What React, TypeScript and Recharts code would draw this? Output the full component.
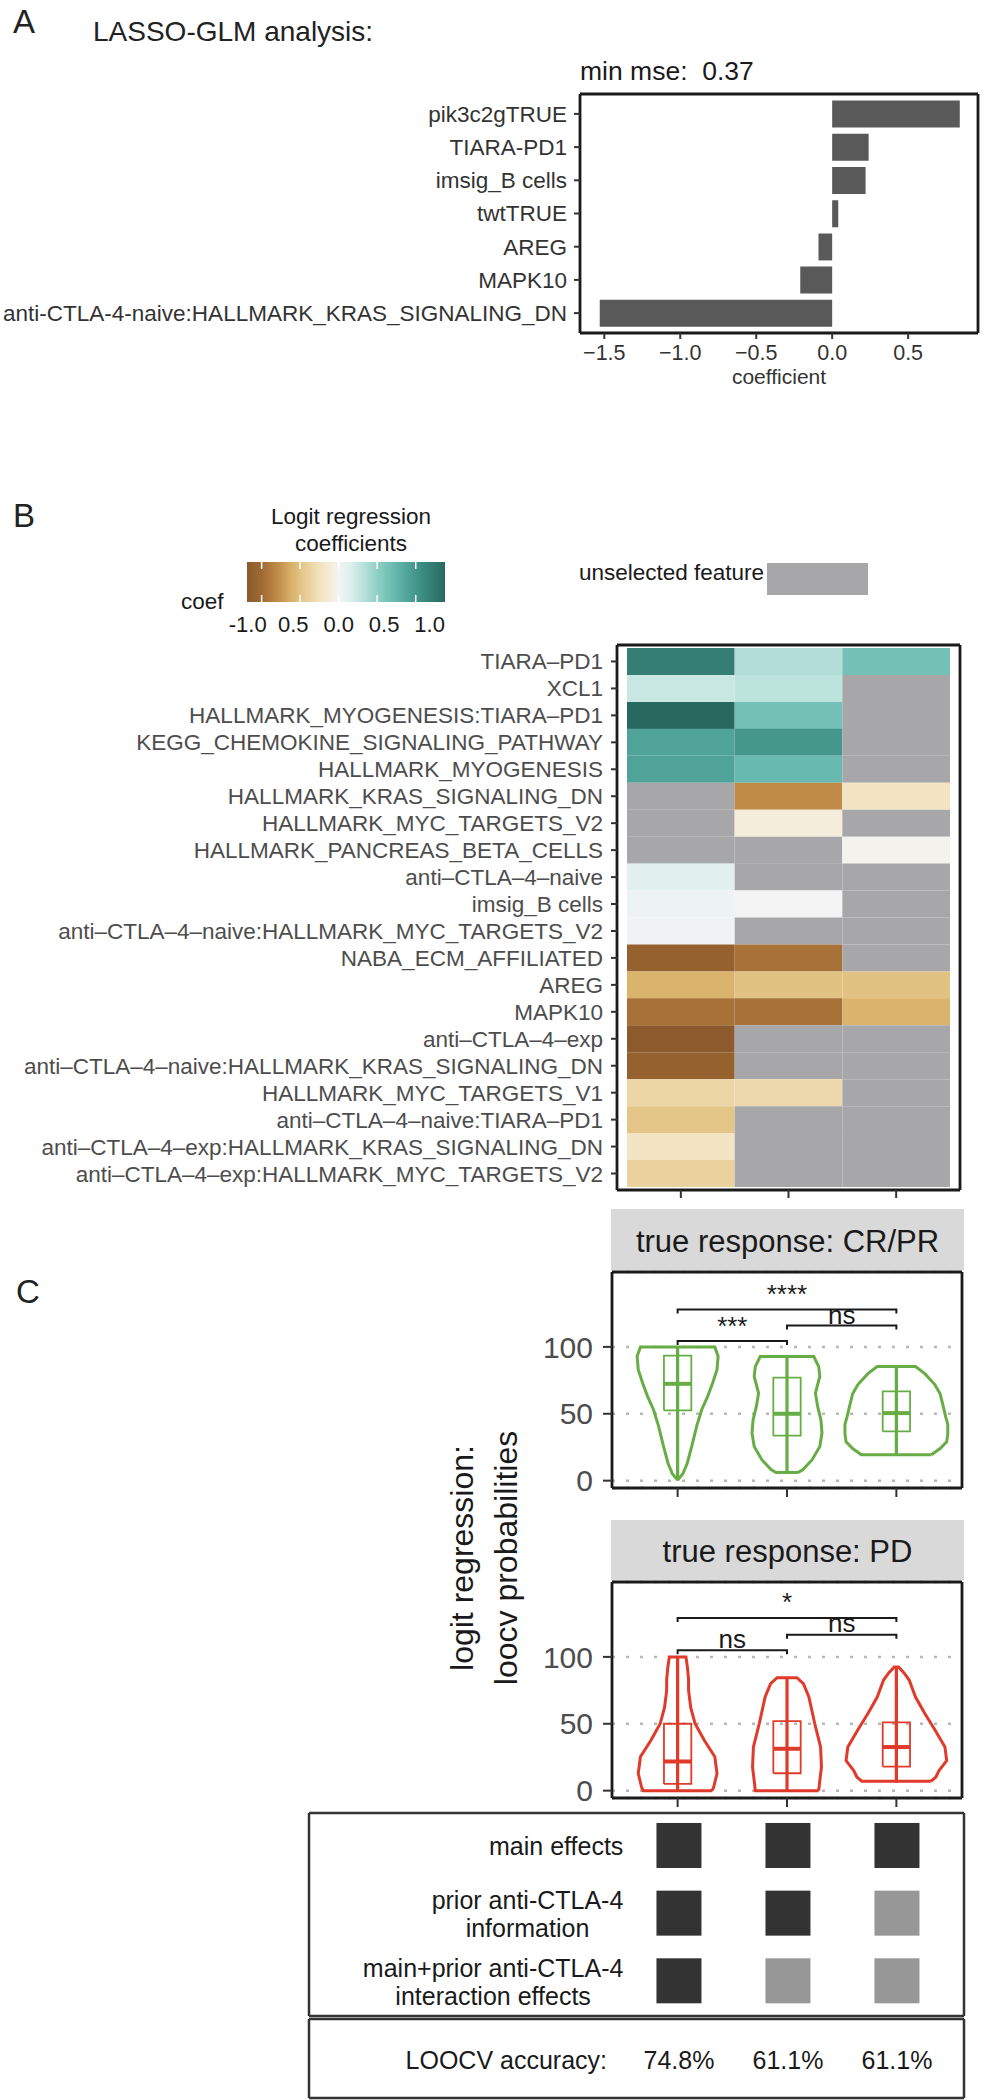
import React from 'react';
import { BarChart, Bar, Cell, XAxis, YAxis, CartesianGrid, ScatterChart, Scatter } from 'recharts';

const FONT = '"Liberation Sans", Arial, Helvetica, sans-serif';
const INK = '#1a1a1a';
const AXIS_TEXT = '#4d4d4d';
const UNSELECTED = '#a7a7a9';

// ---- A: LASSO-GLM coefficients
const lassoFeatures = [
  'pik3c2gTRUE',
  'TIARA-PD1',
  'imsig_B cells',
  'twtTRUE',
  'AREG',
  'MAPK10',
  'anti-CTLA-4-naive:HALLMARK_KRAS_SIGNALING_DN',
];
const lassoCoefs = [0.84, 0.24, 0.22, 0.04, -0.09, -0.21, -1.53];
const lassoTicks = [-1.5, -1, -0.5, 0, 0.5];
const minMse = '0.37';

// ---- B: logit regression coefficients, one list per model (null = unselected feature)
const heatFeatures = [
  'TIARA–PD1',
  'XCL1',
  'HALLMARK_MYOGENESIS:TIARA–PD1',
  'KEGG_CHEMOKINE_SIGNALING_PATHWAY',
  'HALLMARK_MYOGENESIS',
  'HALLMARK_KRAS_SIGNALING_DN',
  'HALLMARK_MYC_TARGETS_V2',
  'HALLMARK_PANCREAS_BETA_CELLS',
  'anti–CTLA–4–naive',
  'imsig_B cells',
  'anti–CTLA–4–naive:HALLMARK_MYC_TARGETS_V2',
  'NABA_ECM_AFFILIATED',
  'AREG',
  'MAPK10',
  'anti–CTLA–4–exp',
  'anti–CTLA–4–naive:HALLMARK_KRAS_SIGNALING_DN',
  'HALLMARK_MYC_TARGETS_V1',
  'anti–CTLA–4–naive:TIARA–PD1',
  'anti–CTLA–4–exp:HALLMARK_KRAS_SIGNALING_DN',
  'anti–CTLA–4–exp:HALLMARK_MYC_TARGETS_V2',
];
const model1Coefs = [1.2, 0.25, 1.38, 0.9, 0.9, null, null, null, 0.12, 0.05, 0.03, -1.1, -0.6, -0.95, -1.19, -1.1, -0.35, -0.48, -0.22, -0.38];
const model2Coefs = [0.35, 0.3, 0.65, 1.0, 0.72, -0.8, -0.1, null, null, 0.0, null, -0.95, -0.5, -0.95, null, null, -0.33, null, null, null];
const model3Coefs = [0.65, null, null, null, null, -0.22, null, -0.03, null, null, null, null, -0.5, -0.6, null, null, null, null, null, null];
const coefLegendTicks = [-1, -0.5, 0, 0.5, 1];
const coefLegendLabels = ['-1.0', '0.5', '0.0', '0.5', '1.0'];
const coefRange = [-1.19, 1.38];

// ---- C: loocv probabilities, violin outlines as [probability, half width]
const crViolins: Array<Array<[number, number]>> = [
  [[0.5, 0], [5, 0.047], [13, 0.088], [26, 0.13], [41, 0.175], [53, 0.22], [63, 0.275], [73, 0.32], [83, 0.36], [93, 0.37], [100, 0.34]],
  [[6, 0.1], [8.3, 0.146], [15.7, 0.23], [25.6, 0.3], [35.6, 0.32], [45.5, 0.31], [55.5, 0.28], [65.4, 0.26], [77.9, 0.3], [85.3, 0.29], [92.8, 0.245]],
  [[19.4, 0.32], [24, 0.4], [29, 0.46], [35, 0.47], [42, 0.47], [48, 0.45], [55, 0.43], [65, 0.4], [72, 0.35], [80, 0.26], [85.3, 0.175]],
];
const pdViolins: Array<Array<[number, number]>> = [
  [[0, 0.315], [2.7, 0.33], [12.8, 0.36], [25.3, 0.34], [37.5, 0.245], [50, 0.16], [62, 0.12], [75, 0.1], [83, 0.1], [92, 0.09], [100, 0.076]],
  [[0, 0.29], [7.5, 0.3], [17.5, 0.315], [32.6, 0.307], [50, 0.254], [70, 0.2], [80, 0.15], [84.5, 0.09]],
  [[7, 0.315], [10, 0.36], [15, 0.39], [22.5, 0.46], [32.6, 0.444], [45, 0.356], [57.6, 0.26], [70, 0.175], [82.7, 0.117], [88, 0.07], [92.5, 0.02]],
];
const crBoxes = [
  { lo: 0, q1: 52.5, med: 72.4, q3: 93.5, hi: 100 },
  { lo: 6, q1: 33.6, med: 50, q3: 77, hi: 93 },
  { lo: 19.4, q1: 36.8, med: 50.5, q3: 66.7, hi: 85.3 },
];
const pdBoxes = [
  { lo: 0, q1: 5, med: 21.8, q3: 50, hi: 100 },
  { lo: 0, q1: 13, med: 31.3, q3: 52, hi: 84 },
  { lo: 6, q1: 18, med: 32.6, q3: 51, hi: 92 },
];
const crBrackets = [
  { from: 0, to: 1, y: 104.5, label: '***', labelY: 109 },
  { from: 1, to: 2, y: 116, label: 'ns', labelY: 117 },
  { from: 0, to: 2, y: 128, label: '****', labelY: 133 },
];
const pdBrackets = [
  { from: 0, to: 1, y: 105, label: 'ns', labelY: 106.5 },
  { from: 1, to: 2, y: 116.5, label: 'ns', labelY: 118.5 },
  { from: 0, to: 2, y: 129, label: '*', labelY: 134 },
];
const probTicks = [0, 50, 100];

// ---- model composition table
const tableRows = ['main effects', 'prior anti-CTLA-4\ninformation', 'main+prior anti-CTLA-4\ninteraction effects'];
const modelIncludes = [
  [true, true, true],
  [true, true, false],
  [true, false, false],
];
const loocvAccuracy = ['74.8%', '61.1%', '61.1%'];

// colour scale of the heatmap
const coefStops: Array<[number, string]> = [
  [-1.19, '#8c5a2c'], [-1.0, '#9f6933'], [-0.8, '#c08a47'], [-0.6, '#dab36c'], [-0.45, '#e6ca8f'],
  [-0.25, '#f2e2bd'], [-0.1, '#f5eddb'], [0, '#f4f4f4'], [0.15, '#ddf0ed'], [0.3, '#bde3dd'],
  [0.5, '#8fd0c6'], [0.7, '#6bbbb1'], [0.9, '#4fa398'], [1.1, '#3a8a80'], [1.38, '#28695f'],
];

function hexToRgb(h: string) {
  return [1, 3, 5].map((i) => parseInt(h.slice(i, i + 2), 16));
}

function coefColor(v: number | null) {
  if (v === null) return UNSELECTED;
  if (v <= coefStops[0][0]) return coefStops[0][1];
  for (let i = 1; i < coefStops.length; i++) {
    const [v1, c1] = coefStops[i];
    if (v <= v1) {
      const [v0, c0] = coefStops[i - 1];
      const t = (v - v0) / (v1 - v0);
      const a = hexToRgb(c0);
      const b = hexToRgb(c1);
      const m = a.map((x, k) => Math.round(x + (b[k] - x) * t));
      return `rgb(${m[0]},${m[1]},${m[2]})`;
    }
  }
  return coefStops[coefStops.length - 1][1];
}

let measureCtx: CanvasRenderingContext2D | null = null;
function measure(text: string, size: number) {
  if (!measureCtx) measureCtx = document.createElement('canvas').getContext('2d');
  if (!measureCtx) return text.length * size * 0.5;
  measureCtx.font = `${size}px ${FONT}`;
  return measureCtx.measureText(text).width;
}

const frameRows = ({ offset }: any) => [offset.top, offset.top + offset.height];
const frameCols = ({ offset }: any) => [offset.left, offset.left + offset.width];
const fmtMinus = (v: number) => (v < 0 ? '\u2212' + Math.abs(v).toFixed(1) : v.toFixed(1));
const blank = () => '';
const noDot = () => <g />;

const BOX_HALF = 0.125;

function outline(profile: Array<[number, number]>, center: number) {
  const right = profile.map(([p, w]) => ({ x: center + w, y: p }));
  const left = [...profile].reverse().map(([p, w]) => ({ x: center - w, y: p }));
  return [...right, ...left, right[0]];
}

const sigLabel = (p: any) => (
  <text x={p.cx} y={p.cy} textAnchor="middle" fontSize={26} fill={INK} fontFamily={FONT}>
    {p.payload.label}
  </text>
);

function ViolinPanel({ top, violins, boxes, brackets, color }: any) {
  const items: React.ReactNode[] = [];
  violins.forEach((prof: Array<[number, number]>, i: number) => {
    items.push(
      <Scatter key={`v${i}`} data={outline(prof, i)} line={{ stroke: color, strokeWidth: 3 }} lineJointType="linear" shape={noDot} isAnimationActive={false} />
    );
  });
  boxes.forEach((b: any, i: number) => {
    items.push(
      <Scatter key={`w${i}`} data={[{ x: i, y: b.lo }, { x: i, y: b.hi }]} line={{ stroke: color, strokeWidth: 3.2 }} shape={noDot} isAnimationActive={false} />,
      <Scatter
        key={`b${i}`}
        data={[
          { x: i - BOX_HALF, y: b.q1 },
          { x: i + BOX_HALF, y: b.q1 },
          { x: i + BOX_HALF, y: b.q3 },
          { x: i - BOX_HALF, y: b.q3 },
          { x: i - BOX_HALF, y: b.q1 },
        ]}
        line={{ stroke: color, strokeWidth: 1.8 }}
        shape={noDot}
        isAnimationActive={false}
      />,
      <Scatter key={`m${i}`} data={[{ x: i - BOX_HALF, y: b.med }, { x: i + BOX_HALF, y: b.med }]} line={{ stroke: color, strokeWidth: 4 }} shape={noDot} isAnimationActive={false} />
    );
  });
  brackets.forEach((br: any, i: number) => {
    items.push(
      <Scatter
        key={`s${i}`}
        data={[
          { x: br.from, y: br.y - 3 },
          { x: br.from, y: br.y },
          { x: br.to, y: br.y },
          { x: br.to, y: br.y - 3 },
        ]}
        line={{ stroke: INK, strokeWidth: 2 }}
        shape={noDot}
        isAnimationActive={false}
      />
    );
  });
  items.push(
    <Scatter
      key="labels"
      data={brackets.map((br: any) => ({ x: (br.from + br.to) / 2, y: br.labelY, label: br.label }))}
      shape={sigLabel}
      isAnimationActive={false}
    />
  );

  return (
    <div style={{ position: 'absolute', left: 0, top }}>
      <ScatterChart width={985} height={241} margin={{ top: 10, right: 23, bottom: 0, left: 0 }}>
        <CartesianGrid vertical={false} stroke="#b8b8b8" strokeWidth={2.5} strokeDasharray="3 11" />
        <CartesianGrid horizontalCoordinatesGenerator={frameRows} verticalCoordinatesGenerator={frameCols} stroke={INK} strokeWidth={2.8} />
        <XAxis
          type="number"
          dataKey="x"
          domain={[-0.6, 2.6]}
          ticks={[0, 1, 2]}
          allowDataOverflow
          height={15}
          tickSize={9}
          axisLine={false}
          tickLine={{ stroke: '#333', strokeWidth: 2 }}
          tickFormatter={blank}
        />
        <YAxis
          type="number"
          dataKey="y"
          domain={[-5.5, 156]}
          ticks={probTicks}
          allowDataOverflow
          width={612}
          tickSize={9}
          tickMargin={10}
          axisLine={false}
          tickLine={{ stroke: '#333', strokeWidth: 2 }}
          tick={{ fontSize: 30, fill: AXIS_TEXT, fontFamily: FONT }}
        />
        {items}
      </ScatterChart>
    </div>
  );
}

const TABLE_FS = 25;
const TABLE_LH = 28.5;

const tileShape = (p: any) => (
  <rect x={p.cx - 22.5} y={p.cy - 22.5} width={45} height={45} fill={p.payload.on ? '#333333' : '#979797'} />
);

const rowLabelShape = (p: any) => {
  const lines: string[] = p.payload.label.split('\n');
  const maxW = Math.max(...lines.map((l) => measure(l, TABLE_FS)));
  const mid = p.cx - maxW / 2;
  return (
    <text fontSize={TABLE_FS} fill={INK} fontFamily={FONT} textAnchor="middle">
      {lines.map((l, i) => (
        <tspan key={i} x={mid} y={p.cy + 0.4 * TABLE_FS + (i - (lines.length - 1) / 2) * TABLE_LH}>
          {l}
        </tspan>
      ))}
    </text>
  );
};

const cellText = (anchor: 'middle' | 'end') => (p: any) => (
  <text x={p.cx} y={p.cy + 0.42 * TABLE_FS} textAnchor={anchor} fontSize={TABLE_FS} fill={INK} fontFamily={FONT}>
    {p.payload.label}
  </text>
);

export default function App() {
  const lassoRows = lassoFeatures.map((feature, i) => ({ feature, coef: lassoCoefs[i] }));
  const modelCoefs = [model1Coefs, model2Coefs, model3Coefs];
  const heatRows = heatFeatures.map((feature) => ({ feature, m0: 1, m1: 1, m2: 1 }));

  const tiles: any[] = [];
  modelIncludes.forEach((row, r) => row.forEach((on, c) => tiles.push({ x: c, y: r, on })));
  const rowLabels = tableRows.map((label, r) => ({ x: -0.51, y: r, label }));
  const accRows = loocvAccuracy.map((label, c) => ({ x: c, y: 0, label }));

  const barX0 = 247;
  const barW = 198;
  const legendX = (v: number) => barX0 + ((v - coefRange[0]) / (coefRange[1] - coefRange[0])) * barW;
  // the legend labels sit a little wider apart than the white tick marks
  const legendLabelX = (v: number) => legendX(0) + (legendX(v) - legendX(0)) * 1.18;

  const textStyle = { fontFamily: FONT };

  return (
    <div style={{ position: 'relative', width: 985, height: 2100, background: '#fff', fontFamily: FONT }}>
      <style>{'body{margin:0;background:#fff}'}</style>

      <svg width={985} height={2100} style={{ position: 'absolute', left: 0, top: 0 }}>
        <defs>
          <linearGradient id="coefGrad" x1="0" x2="1" y1="0" y2="0">
            {coefStops.map(([v, c]) => (
              <stop key={v} offset={(v - coefRange[0]) / (coefRange[1] - coefRange[0])} stopColor={c} />
            ))}
          </linearGradient>
        </defs>
        <g style={textStyle}>
          <text x={13} y={33} fontSize={33} fill="#222">A</text>
          <text x={93} y={41} fontSize={28} fill="#222">LASSO-GLM analysis:</text>
          <text x={580} y={80} fontSize={26.5} fill={INK}>{`min mse:\u00a0\u00a0${minMse}`}</text>

          <text x={13} y={527} fontSize={33} fill="#222">B</text>
          <text x={351} y={524} fontSize={22.5} fill={INK} textAnchor="middle">Logit regression</text>
          <text x={351} y={551} fontSize={22.5} fill={INK} textAnchor="middle">coefficients</text>
          <rect x={barX0} y={562} width={barW} height={40} fill="url(#coefGrad)" />
          {coefLegendTicks.map((v) => (
            <g key={v}>
              <line x1={legendX(v)} x2={legendX(v)} y1={562} y2={569} stroke="#fff" strokeWidth={1.5} />
              <line x1={legendX(v)} x2={legendX(v)} y1={595} y2={602} stroke="#fff" strokeWidth={1.5} />
            </g>
          ))}
          {coefLegendTicks.map((v, i) => (
            <text key={v} x={legendLabelX(v)} y={632} fontSize={22} fill={INK} textAnchor="middle">
              {coefLegendLabels[i]}
            </text>
          ))}
          <text x={181} y={609} fontSize={22.5} fill={INK}>coef</text>
          <text x={579} y={580} fontSize={22.5} fill={INK}>unselected feature</text>
          <rect x={767} y={563} width={101} height={32} fill={UNSELECTED} />

          <text x={16} y={1303} fontSize={33} fill="#222">C</text>
          <rect x={611} y={1209} width={353} height={61} fill="#d9d9d9" />
          <text x={787.5} y={1252} fontSize={31} fill={INK} textAnchor="middle">true response: CR/PR</text>
          <rect x={611} y={1520} width={353} height={60} fill="#d9d9d9" />
          <text x={787.5} y={1562} fontSize={31} fill={INK} textAnchor="middle">true response: PD</text>
          <text transform="translate(473,1558) rotate(-90)" fontSize={32} fill={INK} textAnchor="middle">
            <tspan x={0} y={0}>logit regression:</tspan>
            <tspan x={0} y={44}>loocv probabilities</tspan>
          </text>
        </g>
      </svg>

      {/* A */}
      <div style={{ position: 'absolute', left: 0, top: 84 }}>
        <BarChart layout="vertical" width={985} height={309} data={lassoRows} margin={{ top: 10, right: 7, left: 0, bottom: 0 }} barCategoryGap="10%">
          <CartesianGrid horizontalCoordinatesGenerator={frameRows} verticalCoordinatesGenerator={frameCols} stroke={INK} strokeWidth={2.8} />
          <XAxis
            type="number"
            domain={[-1.66, 0.96]}
            ticks={lassoTicks}
            allowDataOverflow
            interval={0}
            height={60}
            tickSize={6}
            tickMargin={6}
            axisLine={false}
            tickLine={{ stroke: '#333', strokeWidth: 2 }}
            tickFormatter={fmtMinus}
            tick={{ fontSize: 21.5, fill: '#333', fontFamily: FONT }}
            label={{ value: 'coefficient', position: 'insideBottom', offset: 9, fontSize: 21, fill: '#333', fontFamily: FONT }}
          />
          <YAxis
            type="category"
            dataKey="feature"
            width={580}
            interval={0}
            padding={{ top: 3.3, bottom: 3.3 }}
            tickSize={6}
            tickMargin={7}
            axisLine={false}
            tickLine={{ stroke: '#333', strokeWidth: 2 }}
            tick={{ fontSize: 22.5, fill: '#333', fontFamily: FONT }}
          />
          <Bar dataKey="coef" fill="#595959" isAnimationActive={false} />
        </BarChart>
      </div>

      {/* B */}
      <div style={{ position: 'absolute', left: 0, top: 635 }}>
        <BarChart layout="vertical" width={985} height={575} data={heatRows} margin={{ top: 10, right: 25, left: 0, bottom: 0 }} barCategoryGap={0}>
          <CartesianGrid horizontalCoordinatesGenerator={frameRows} verticalCoordinatesGenerator={frameCols} stroke={INK} strokeWidth={2.8} />
          <XAxis
            type="number"
            domain={[-0.093, 3.093]}
            ticks={[0.5, 1.5, 2.5]}
            allowDataOverflow
            interval={0}
            height={20}
            tickSize={8}
            axisLine={false}
            tickLine={{ stroke: '#333', strokeWidth: 2 }}
            tickFormatter={blank}
          />
          <YAxis
            type="category"
            dataKey="feature"
            width={617}
            interval={0}
            padding={{ top: 3, bottom: 3 }}
            tickSize={6}
            tickMargin={8}
            axisLine={false}
            tickLine={{ stroke: '#333', strokeWidth: 2 }}
            tick={{ fontSize: 22.5, fill: AXIS_TEXT, fontFamily: FONT }}
          />
          {modelCoefs.map((coefs, m) => (
            <Bar key={m} dataKey={`m${m}`} stackId="tiles" isAnimationActive={false}>
              {coefs.map((c, i) => (
                <Cell key={i} fill={coefColor(c)} />
              ))}
            </Bar>
          ))}
        </BarChart>
      </div>

      {/* C */}
      <ViolinPanel top={1262} violins={crViolins} boxes={crBoxes} brackets={crBrackets} color="#67ad45" />
      <ViolinPanel top={1572} violins={pdViolins} boxes={pdBoxes} brackets={pdBrackets} color="#e03b2a" />

      {/* model table */}
      <div style={{ position: 'absolute', left: 0, top: 1803 }}>
        <ScatterChart width={985} height={223} margin={{ top: 10, right: 21, bottom: 10, left: 309 }}>
          <CartesianGrid horizontalCoordinatesGenerator={frameRows} verticalCoordinatesGenerator={frameCols} stroke="#333" strokeWidth={2.5} />
          <XAxis type="number" dataKey="x" domain={[-3.394, 2.615]} allowDataOverflow hide />
          <YAxis type="number" dataKey="y" domain={[-0.48, 2.52]} reversed allowDataOverflow hide />
          <Scatter data={tiles} shape={tileShape} isAnimationActive={false} />
          <Scatter data={rowLabels} shape={rowLabelShape} isAnimationActive={false} />
        </ScatterChart>
      </div>
      <div style={{ position: 'absolute', left: 0, top: 2009 }}>
        <ScatterChart width={985} height={99} margin={{ top: 10, right: 21, bottom: 10, left: 309 }}>
          <CartesianGrid horizontalCoordinatesGenerator={frameRows} verticalCoordinatesGenerator={frameCols} stroke="#333" strokeWidth={2.5} />
          <XAxis type="number" dataKey="x" domain={[-3.394, 2.615]} allowDataOverflow hide />
          <YAxis type="number" dataKey="y" domain={[-1, 1]} allowDataOverflow hide />
          <Scatter data={[{ x: -0.66, y: 0, label: 'LOOCV accuracy:' }]} shape={cellText('end')} isAnimationActive={false} />
          <Scatter data={accRows} shape={cellText('middle')} isAnimationActive={false} />
        </ScatterChart>
      </div>
    </div>
  );
}
